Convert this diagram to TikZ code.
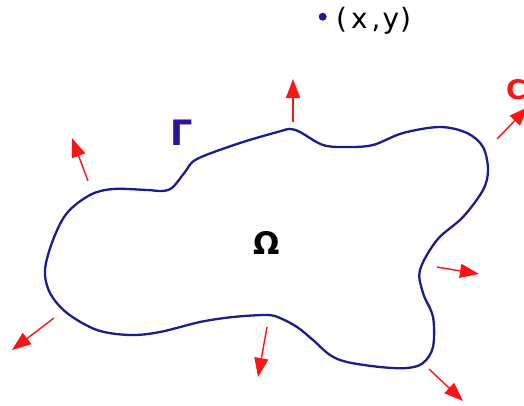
\documentclass[tikz,border=0pt]{standalone}
\usepackage{fontspec}
\setmainfont{DejaVu Sans}
\usetikzlibrary{arrows.meta}
\definecolor{curveblue}{RGB}{28,28,140}
\definecolor{labelblue}{RGB}{48,20,150}
\definecolor{arrred}{RGB}{250,20,20}
\tikzset{
  normalarrow/.style={draw=arrred, line width=1.4pt, -{Triangle[length=19pt,width=14pt]}},
  boundary/.style={draw=curveblue, line width=2.3pt},
}
\begin{document}
\begin{tikzpicture}[x=1pt,y=-1pt]
\useasboundingbox (0,0) rectangle (524,405);
\draw[boundary] plot[smooth cycle, tension=0.55] coordinates{
(45,270) (53,240) (67,213) (90,195) (113,189) (147,190) (163,191) (173,187)
(185,172) (197,159) (240,143) (281,131) (290,129) (300,132) (323,145) (347,147)
(373,145) (403,133) (440,127) (467,133) (483,147) (488,170) (483,190) (463,217)
(437,240) (420,270) (423,293) (433,317) (433,347) (423,363) (407,368) (380,367)
(347,362) (330,355) (313,340) (297,327) (280,318) (267,315) (233,317) (200,322)
(160,332) (130,335) (97,330) (67,313) (50,293)};
% arrows
\coordinate (a1s) at (88,181);  \coordinate (a1t) at (72,138);
\coordinate (a2s) at (54,318);  \coordinate (a2t) at (12,350);
\coordinate (a3s) at (267,327); \coordinate (a3t) at (258,377);
\coordinate (a4s) at (293,122); \coordinate (a4t) at (293,79);
\coordinate (a5s) at (437,267); \coordinate (a5t) at (479,274);
\coordinate (a6s) at (429,369); \coordinate (a6t) at (463,401);
\coordinate (a7s) at (497,139); \coordinate (a7t) at (528,107);
\foreach \i in {1,...,7} {\draw[normalarrow] (a\i s) -- (a\i t);}
% labels
\node[text=labelblue, font=\fontsize{35}{35}\selectfont\bfseries] (gamma) at (182,133) {Γ};
\node[text=black, font=\fontsize{31}{31}\selectfont\bfseries] (omega) at (267,243) {Ω};
\node[text=arrred, font=\fontsize{27}{27}\selectfont\bfseries, anchor=west, inner sep=0pt] (cl) at (506,90) {C};
\fill[labelblue] (322.7,16.7) circle (4pt) coordinate (pt);
\node[anchor=base west, font=\fontsize{28}{28}\selectfont, inner sep=0pt] (xy) at (336,28) {(\kern4pt x\kern4pt ,\kern2pt y\kern1pt )};
\end{tikzpicture}
\end{document}
